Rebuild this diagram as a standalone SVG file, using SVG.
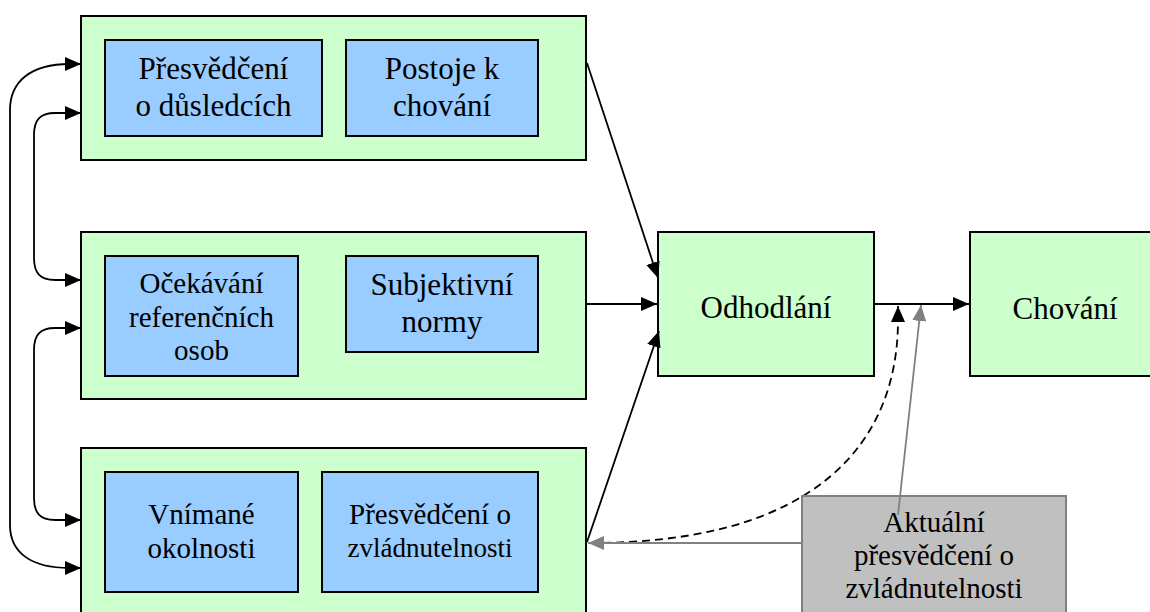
<svg xmlns="http://www.w3.org/2000/svg" width="1150" height="612" viewBox="0 0 1150 612">
<style>
.outer{fill:#CCFFCC;stroke:#000;stroke-width:2}
.inner{fill:#99CCFF;stroke:#000;stroke-width:2}
.gray{fill:#C0C0C0;stroke:#808080;stroke-width:2}
text{font-family:"Liberation Serif","Times New Roman",serif;fill:#000;text-anchor:middle}
.t31{font-size:31px}
.t29{font-size:29px}
.t27{font-size:27px}
.c{fill:none;stroke:#000;stroke-width:1.8}
.g{fill:none;stroke:#808080;stroke-width:1.8}
.d{fill:none;stroke:#000;stroke-width:1.8;stroke-dasharray:8,5}
</style>
<defs>
<marker id="ab" markerUnits="userSpaceOnUse" markerWidth="17" markerHeight="14" refX="16" refY="7" orient="auto-start-reverse">
<path d="M0,0 L16,7 L0,14 z" fill="#000"/>
</marker>
<marker id="ag" markerUnits="userSpaceOnUse" markerWidth="17" markerHeight="14" refX="16" refY="7" orient="auto">
<path d="M0,0 L16,7 L0,14 z" fill="#808080"/>
</marker>
</defs>

<g id="box-top">
<rect class="outer" x="81" y="16" width="505" height="144"/>
</g>
<g id="presvedceni-dusledky">
<rect class="inner" x="105" y="40" width="217" height="96"/>
<text class="t31" x="213.5" y="79">Přesvědčení</text>
<text class="t31" x="213.5" y="116">o důsledcích</text>
</g>
<g id="postoje">
<rect class="inner" x="346" y="40" width="192" height="96"/>
<text class="t31" x="442" y="79">Postoje k</text>
<text class="t31" x="442" y="116">chování</text>
</g>

<g id="box-middle">
<rect class="outer" x="81" y="232" width="505" height="167"/>
</g>
<g id="ocekavani">
<rect class="inner" x="105" y="256" width="193" height="120"/>
<text class="t29" x="201.5" y="293">Očekávání</text>
<text class="t29" x="201.5" y="327">referenčních</text>
<text class="t29" x="201.5" y="360">osob</text>
</g>
<g id="subjektivni-normy">
<rect class="inner" x="346" y="256" width="192" height="96"/>
<text class="t31" x="442" y="295">Subjektivní</text>
<text class="t31" x="442" y="332">normy</text>
</g>

<g id="box-bottom">
<rect class="outer" x="81" y="448" width="505" height="180"/>
</g>
<g id="vnimane-okolnosti">
<rect class="inner" x="105" y="472" width="193" height="120"/>
<text class="t29" x="201.5" y="524">Vnímané</text>
<text class="t29" x="201.5" y="558">okolnosti</text>
</g>
<g id="presvedceni-zvladnutelnost">
<rect class="inner" x="322" y="472" width="216" height="120"/>
<text class="t29" x="430" y="524">Přesvědčení o</text>
<text class="t27" x="430" y="557">zvládnutelnosti</text>
</g>

<g id="odhodlani">
<rect class="outer" x="658" y="232" width="216" height="144"/>
<text class="t31" x="766" y="318">Odhodlání</text>
</g>
<g id="chovani">
<rect class="outer" x="970" y="232" width="200" height="144"/>
<text class="t31" x="1065" y="319">Chování</text>
</g>

<g id="connectors">
<line class="c" x1="587" y1="63" x2="658" y2="278" marker-end="url(#ab)"/>
<line class="c" x1="586" y1="304" x2="657" y2="304" marker-end="url(#ab)"/>
<line class="c" x1="587" y1="542" x2="659" y2="331" marker-end="url(#ab)"/>
<line class="c" x1="874" y1="304" x2="969" y2="304" marker-end="url(#ab)"/>
<path class="c" d="M81,64 L70,64 C30,64 10,82 10,110 L10,525 C10,552 30,568 70,568 L81,568" marker-start="url(#ab)" marker-end="url(#ab)"/>
<path class="c" d="M81,113 L55,113 C40,113 34,120 34,135 L34,258 C34,273 40,280 55,280 L81,280" marker-start="url(#ab)" marker-end="url(#ab)"/>
<path class="c" d="M81,328 L55,328 C40,328 34,335 34,350 L34,498 C34,513 40,520 55,520 L81,520" marker-start="url(#ab)" marker-end="url(#ab)"/>
<path class="d" d="M590,543 C820,543 898,440 898,320 L898,306" marker-end="url(#ab)"/>
<line class="g" x1="802" y1="543" x2="588" y2="543" marker-end="url(#ag)"/>
</g>

<g id="aktualni">
<rect class="gray" x="802" y="496" width="264" height="130"/>
<line class="g" x1="898" y1="515" x2="921" y2="305" marker-end="url(#ag)"/>
<text class="t29" x="934" y="532">Aktuální</text>
<text class="t29" x="934" y="565">přesvědčení o</text>
<text class="t29" x="934" y="598">zvládnutelnosti</text>
</g>
</svg>
